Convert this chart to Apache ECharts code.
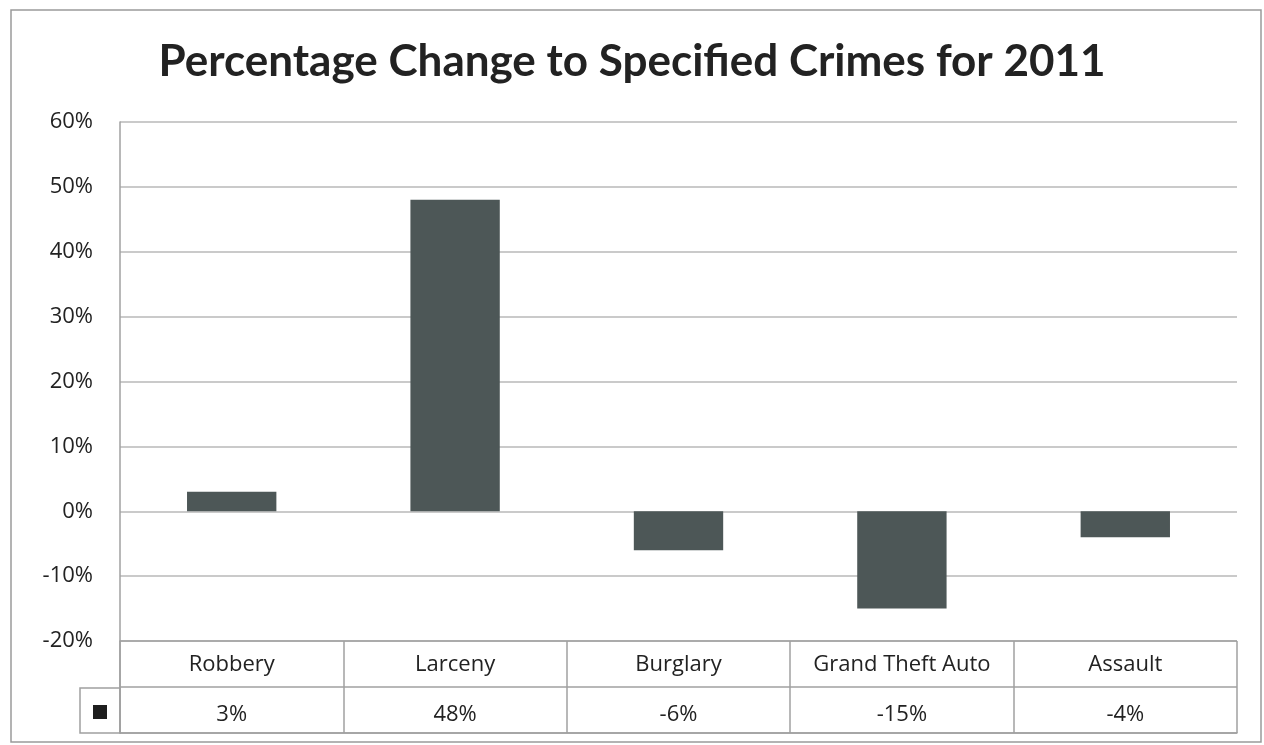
<!DOCTYPE html>
<html>
<head>
<meta charset="utf-8">
<script src="https://cdn.jsdelivr.net/npm/echarts@6/dist/echarts.min.js"></script>
<style>
html,body{margin:0;padding:0;background:#fff;}
#chart{width:1264px;height:745px;}
</style>
</head>
<body>
<div id="chart"></div>
<script>
const titleText = 'Percentage Change to Specified Crimes for 2011';
const categories = ['Robbery', 'Larceny', 'Burglary', 'Grand Theft Auto', 'Assault'];
const values = [3, 48, -6, -15, -4];
const yTicks = { min: -20, max: 60, interval: 10 };

const FONT = 'Open Sans';
const chart = echarts.init(document.getElementById('chart'));
const gridLine = { lineStyle: { color: '#b8b8b8', width: 1.5 } };

chart.setOption({
  backgroundColor: '#ffffff',
  animation: false,
  title: {
    text: titleText,
    left: 'center',
    top: 35,
    textStyle: { fontFamily: 'Lato', fontWeight: 'bold', fontSize: 44, color: '#222222' }
  },
  legend: {
    left: 88, top: 700,
    icon: 'rect', itemWidth: 14, itemHeight: 14, itemGap: 0,
    formatter: () => '',
    itemStyle: { color: '#1e1e1e' },
    selectedMode: false,
    data: ['Change']
  },
  graphic: [
    { type: 'rect', shape: { x: 11, y: 10, width: 1250, height: 732 }, style: { fill: 'none', stroke: '#9a9a9a', lineWidth: 1.5 }, silent: true },
    { type: 'rect', shape: { x: 80, y: 688, width: 40, height: 45 }, style: { fill: 'none', stroke: '#a0a0a0', lineWidth: 1.5 }, silent: true }
  ],
  grid: [
    { left: 120, right: 27, top: 122, bottom: 104 },
    { left: 120, right: 27, top: 641, height: 92 }
  ],
  xAxis: [
    { type: 'category', gridIndex: 0, data: categories,
      axisLine: { show: false }, axisTick: { show: false }, axisLabel: { show: false } },
    { type: 'category', gridIndex: 1, position: 'top', data: categories,
      axisLine: { show: false }, axisTick: { show: false },
      splitLine: { show: true, interval: 0, lineStyle: { color: '#a0a0a0', width: 1.5 } },
      axisLabel: { interval: 0, hideOverlap: false, inside: true, margin: 13, fontFamily: FONT, fontSize: 22, color: '#222222' } },
    { type: 'category', gridIndex: 1, position: 'bottom', data: values.map(v => v + '%'),
      axisLine: { show: true, lineStyle: { color: '#a0a0a0', width: 1.5 } }, axisTick: { show: false },
      axisLabel: { interval: 0, inside: true, margin: 7, fontFamily: FONT, fontSize: 22, color: '#222222' } }
  ],
  yAxis: [
    { type: 'value', gridIndex: 0, min: yTicks.min, max: yTicks.max, interval: yTicks.interval,
      axisLine: { show: true, lineStyle: { color: '#a0a0a0', width: 1.5 } },
      axisTick: { show: false },
      splitLine: { show: true, lineStyle: gridLine.lineStyle },
      axisLabel: { formatter: '{value}%', margin: 27, fontFamily: FONT, fontSize: 22, color: '#222222' } },
    { type: 'value', gridIndex: 1, min: 0, max: 2, interval: 1,
      axisLine: { show: true, lineStyle: { color: '#a0a0a0', width: 1.5 } },
      axisTick: { show: false }, axisLabel: { show: false },
      splitLine: { show: true, lineStyle: { color: '#a0a0a0', width: 1.5 } } }
  ],
  series: [{
    name: 'Change',
    type: 'bar',
    xAxisIndex: 0, yAxisIndex: 0,
    data: values,
    barWidth: '40%',
    itemStyle: { color: '#4d5757' }
  }]
});
</script>
</body>
</html>
